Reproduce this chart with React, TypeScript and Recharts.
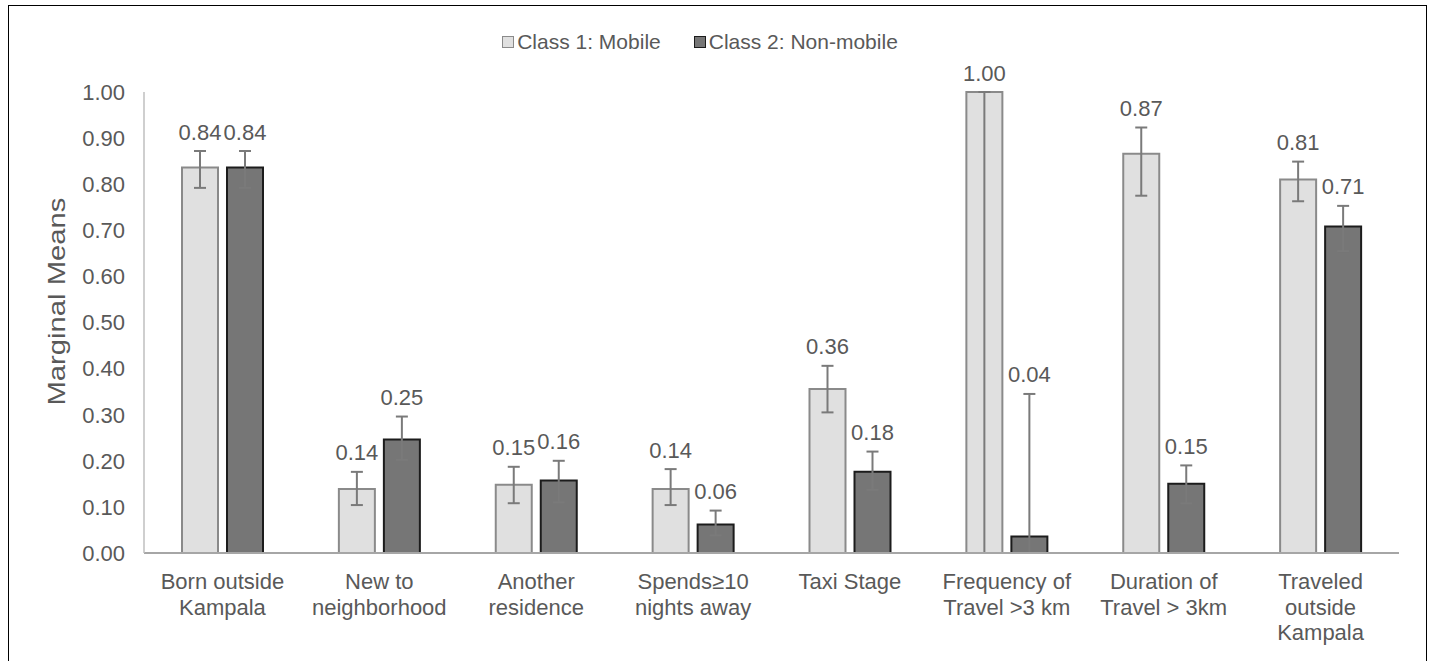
import { BarChart, Bar, XAxis, YAxis, ErrorBar, Legend, LabelList, Label } from 'recharts'

const categories = [
  'Born outside\nKampala',
  'New to\nneighborhood',
  'Another\nresidence',
  'Spends≥10\nnights away',
  'Taxi Stage',
  'Frequency of\nTravel >3 km',
  'Duration of\nTravel > 3km',
  'Traveled\noutside\nKampala',
]

// Class 1: Mobile
const mobile = [0.836, 0.139, 0.148, 0.139, 0.356, 1.0, 0.866, 0.81]
const mobileLow = [0.792, 0.104, 0.108, 0.104, 0.305, 0, 0.775, 0.763]
const mobileHigh = [0.872, 0.176, 0.187, 0.182, 0.406, 1.0, 0.923, 0.849]

// Class 2: Non-mobile
const nonMobile = [0.836, 0.246, 0.157, 0.062, 0.176, 0.036, 0.15, 0.708]
const nonMobileLow = [0.792, 0.202, 0.11, 0.038, 0.137, 0, 0.108, 0.655]
const nonMobileHigh = [0.872, 0.296, 0.2, 0.092, 0.22, 0.345, 0.19, 0.753]

const yTicks = [0, 0.1, 0.2, 0.3, 0.4, 0.5, 0.6, 0.7, 0.8, 0.9, 1.0]

const FONT = 'Liberation Sans, Arial, sans-serif'
const TEXT = '#595959'

const data = categories.map((name, i) => ({
  name,
  mobile: mobile[i],
  nonMobile: nonMobile[i],
  mobileErr: [mobile[i] - mobileLow[i], mobileHigh[i] - mobile[i]],
  nonMobileErr: [nonMobile[i] - nonMobileLow[i], nonMobileHigh[i] - nonMobile[i]],
}))

const series = [
  { key: 'mobile', name: 'Class 1: Mobile', fill: '#e0e0e0', stroke: '#8a8a8a' },
  { key: 'nonMobile', name: 'Class 2: Non-mobile', fill: '#767676', stroke: '#1c1c1c' },
]

// label sits above the top of the error bar
const makeValueLabel = (highs: number[]) => (props: any) => {
  const { x, y, width, height, value, index } = props
  const perUnit = height / value
  const top = y + height - highs[index] * perUnit
  return (
    <text
      x={x + width / 2}
      y={top - 19}
      textAnchor="middle"
      dominantBaseline="central"
      fontFamily={FONT}
      fontSize={22}
      fill={TEXT}
    >
      {Number(value).toFixed(2)}
    </text>
  )
}

const CategoryTick = ({ x, y, payload }: any) => {
  const lines = String(payload.value).split('\n')
  return (
    <text x={x} y={y} textAnchor="middle" fontFamily={FONT} fontSize={22} fill={TEXT}>
      {lines.map((line, i) => (
        <tspan key={i} x={x} dy={i === 0 ? 28 : 25.5}>
          {line}
        </tspan>
      ))}
    </text>
  )
}

const YTitle = ({ viewBox }: any) => {
  const cx = viewBox.x + 47
  const cy = viewBox.y + viewBox.height / 2 - 21
  return (
    <text
      x={cx}
      y={cy}
      transform={`rotate(-90 ${cx} ${cy})`}
      textAnchor="middle"
      dominantBaseline="central"
      fontFamily={FONT}
      fontSize={24}
      textLength={208}
      lengthAdjust="spacingAndGlyphs"
      fill={TEXT}
    >
      Marginal Means
    </text>
  )
}

const renderLegend = () => (
  <div
    style={{
      display: 'flex',
      justifyContent: 'center',
      gap: 33,
      fontFamily: FONT,
      fontSize: 21,
      color: TEXT,
      lineHeight: '24px',
    }}
  >
    {series.map((s) => (
      <div key={s.key} style={{ display: 'flex', alignItems: 'center' }}>
        <span
          style={{
            width: 10,
            height: 10,
            background: s.fill,
            border: `1.5px solid ${s.stroke}`,
            marginRight: 3,
          }}
        />
        {s.name}
      </div>
    ))}
  </div>
)

export default function App() {
  return (
    <div
      style={{
        position: 'absolute',
        left: 8,
        top: 5,
        width: 1417,
        height: 700,
        border: '1px solid #000',
        background: '#fff',
      }}
    >
      <BarChart
        width={1417}
        height={650}
        data={data}
        margin={{ top: 86, right: 27, left: 0, bottom: 3 }}
        barSize={36}
        barGap={9}
      >
        <XAxis
          dataKey="name"
          interval={0}
          height={100}
          tickLine={false}
          axisLine={{ stroke: '#a6a6a6', strokeWidth: 2 }}
          tick={<CategoryTick />}
        />
        <YAxis
          domain={[0, 1]}
          ticks={yTicks}
          width={135}
          tickLine={false}
          tickSize={0}
          tickMargin={19}
          axisLine={{ stroke: '#bfbfbf', strokeWidth: 1.5 }}
          tickFormatter={(v) => v.toFixed(2)}
          tick={{ fontFamily: FONT, fontSize: 22, fill: TEXT }}
          label={<Label content={<YTitle />} />}
        />
        <Legend
          verticalAlign="middle"
          align="center"
          content={renderLegend}
          wrapperStyle={{ top: 24, left: 0, width: 1382 }}
        />
        <Bar
          dataKey="mobile"
          name="Class 1: Mobile"
          fill="#e0e0e0"
          stroke="#8a8a8a"
          strokeWidth={2}
          isAnimationActive={false}
        >
          <ErrorBar dataKey="mobileErr" width={6} stroke="#7a7a7a" strokeWidth={2} direction="y" />
          <LabelList dataKey="mobile" content={makeValueLabel(mobileHigh)} />
        </Bar>
        <Bar
          dataKey="nonMobile"
          name="Class 2: Non-mobile"
          fill="#767676"
          stroke="#1c1c1c"
          strokeWidth={2}
          isAnimationActive={false}
        >
          <ErrorBar dataKey="nonMobileErr" width={6} stroke="#7a7a7a" strokeWidth={2} direction="y" />
          <LabelList dataKey="nonMobile" content={makeValueLabel(nonMobileHigh)} />
        </Bar>
      </BarChart>
    </div>
  )
}
